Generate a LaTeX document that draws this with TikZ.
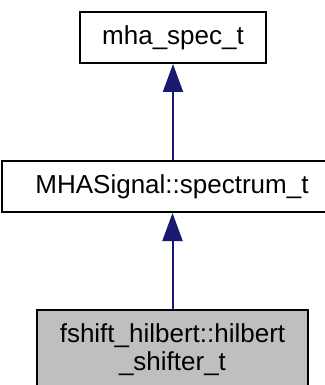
\documentclass[tikz,border=0pt]{standalone}
\usepackage{fontspec}
\setmainfont{Liberation Sans}
\usetikzlibrary{arrows.meta,positioning}
\definecolor{edgeblue}{HTML}{191970}
\definecolor{nodegray}{HTML}{BFBFBF}
\tikzset{
  Cbox/.style={draw=black, line width=2pt, fill=white, align=center,
               font=\fontsize{26}{28}\selectfont, minimum height=51pt,
               inner sep=0pt},
  Iarr/.style={-{Triangle[length=28pt,width=20pt]}, line width=2pt,
               draw=edgeblue, fill=edgeblue}
}
\begin{document}
\begin{tikzpicture}[x=1pt,y=-1pt]
  \useasboundingbox (0,0) rectangle (324,385);
  \node[Cbox, minimum width=186pt] (spec) at (173,37.5) {mha\_spec\_t};
  \node[Cbox, minimum width=340pt] (spectrum) at (172,186.5)
    {MHASignal::spectrum\_t};
  \node[Cbox, fill=nodegray, minimum width=271pt, minimum height=80pt]
    (shifter) at (172.5,350)
    {fshift\_hilbert::hilbert\\\_shifter\_t};

  \draw[Iarr] (spectrum.north -| spec.south) -- (spec.south);
  \draw[Iarr] (shifter.north) -- (shifter.north |- spectrum.south);
\end{tikzpicture}
\end{document}
